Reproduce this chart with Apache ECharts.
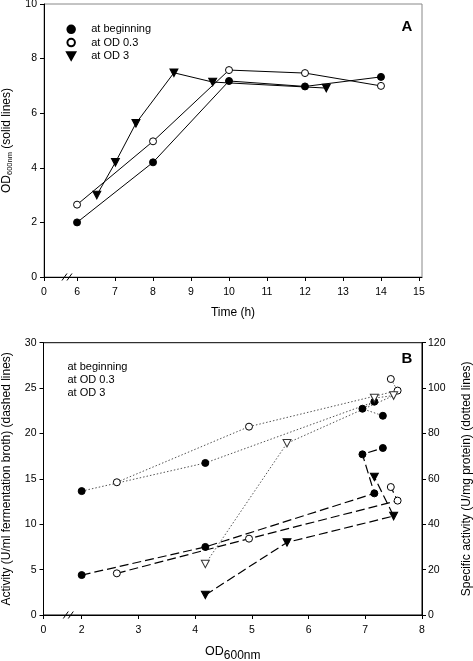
<!DOCTYPE html>
<html><head><meta charset="utf-8">
<script src="https://cdn.jsdelivr.net/npm/echarts@6/dist/echarts.min.js"></script>
<style>html,body{margin:0;padding:0;background:#fff}#c{width:473px;height:661px}</style>
</head><body><div id="c"></div>
<script>
// ---------- data ----------
const seriesNames = ['at beginning', 'at OD 0.3', 'at OD 3'];

// Panel A: OD600nm vs time
const timeBeginning = [6, 8, 10, 12, 14];
const odBeginning   = [2.0, 4.2, 7.18, 6.98, 7.33];
const timeOD03      = [6, 8, 10, 12, 14];
const odOD03        = [2.65, 4.97, 7.58, 7.47, 7.0];
const timeOD3       = [6.52, 7.01, 7.55, 8.55, 9.57, 12.56];
const odOD3         = [3.0, 4.2, 5.63, 7.48, 7.14, 6.92];

// Panel B: activity vs OD600nm
const odB_beginning   = [2.0, 4.18, 7.16, 6.95, 7.31];
const act_beginning   = [4.4, 7.5, 13.4, 17.7, 18.4];
const spec_beginning  = [54.6, 67.0, 94.0, 90.9, 87.8];
const odB_OD03        = [2.62, 4.95, 7.57, 7.45];
const act_OD03        = [4.59, 8.41, 12.6, 14.1];
const spec_OD03       = [58.5, 83.0, 98.9, 104.0];
const odB_OD3         = [4.18, 5.62, 7.50, 7.16];
const act_OD3         = [2.2, 8.0, 10.9, 15.2];
const spec_OD3        = [22.5, 75.7, 96.7, 95.6];

// tick labels (first tick is the broken-axis origin "0")
const xTicksA = [6, 7, 8, 9, 10, 11, 12, 13, 14, 15];
const xTicksB = [2, 3, 4, 5, 6, 7, 8];
const originLabel = '0';

// ---------- layout ----------
const FONT = 'Liberation Sans, Arial, sans-serif';
const minA = 5.13, maxA = 15.08;
const minB = 1.327, maxB = 8.0;
const zip = (xs, ys) => xs.map((x, i) => [x, ys[i]]);
const triDown = 'path://M0,0L10,0L5,9Z';

const axisCommon = {
  axisLine: { show: true, lineStyle: { color: '#000', width: 1 } },
  axisTick: { show: true, length: 4, lineStyle: { color: '#000' } },
  splitLine: { show: false },
  axisLabel: { color: '#000', fontFamily: FONT, fontSize: 10.5 },
  nameTextStyle: { color: '#000', fontFamily: FONT, fontSize: 12 }
};

const chart = echarts.init(document.getElementById('c'), null, { renderer: 'canvas' });

const solid = { color: '#000', width: 1, type: 'solid' };
const dashed = { color: '#000', width: 1.2, type: [9, 4] };
const dotted = { color: '#555', width: 1, type: [1.5, 2] };
const filled = { color: '#000', borderColor: '#000', borderWidth: 1 };
const open = { color: '#fff', borderColor: '#000', borderWidth: 1 };
const openGray = { color: '#fff', borderColor: '#333', borderWidth: 1 };

function line(name, data, xi, yi, lineStyle, symbol, itemStyle, size) {
  return {
    name, type: 'line', xAxisIndex: xi, yAxisIndex: yi, data,
    lineStyle, symbol, symbolSize: size, itemStyle, showSymbol: true,
    animation: false, z: 3
  };
}

const option = {
  backgroundColor: '#fff',
  animation: false,
  grid: [
    { left: 44, top: 4, width: 378, height: 273, show: true, borderColor: '#888', borderWidth: 1, outerBoundsMode: 'none', containLabel: false },
    { left: 43.5, top: 342.7, width: 378.5, height: 272.3, show: true, borderColor: '#000', borderWidth: 1, outerBoundsMode: 'none', containLabel: false }
  ],
  legend: [
    {
      data: seriesNames.map((n, i) => ({ name: n, icon: i === 2 ? triDown : 'circle' })),
      orient: 'vertical', left: 61, top: 17.8, itemWidth: 30, itemHeight: 7.5, itemGap: 0.3,
      textStyle: { color: '#000', fontFamily: FONT, fontSize: 11, lineHeight: 13 },
      selectedMode: false
    },
    {
      data: seriesNames.map(n => ({ name: n, icon: 'none' })),
      orient: 'vertical', left: 57.5, top: 355.7, itemWidth: 0, itemHeight: 7, itemGap: 0,
      textStyle: { color: '#000', fontFamily: FONT, fontSize: 11, lineHeight: 13 },
      selectedMode: false
    }
  ],
  xAxis: [
    Object.assign({}, axisCommon, {
      type: 'value', gridIndex: 0, min: minA, max: maxA,
      name: 'Time (h)', nameLocation: 'middle', nameGap: 30,
      axisTick: Object.assign({}, axisCommon.axisTick, { customValues: [minA].concat(xTicksA) }),
      axisLabel: Object.assign({}, axisCommon.axisLabel, {
        margin: 10, customValues: [minA].concat(xTicksA),
        formatter: v => (v < 5.9 ? originLabel : String(Math.round(v)))
      })
    }),
    Object.assign({}, axisCommon, {
      type: 'value', gridIndex: 1, min: minB, max: maxB,
      name: 'OD{sub|600nm}', nameLocation: 'middle', nameGap: 26,
      nameTextStyle: { color: '#000', fontFamily: FONT, fontSize: 12.5,
        rich: { sub: { fontFamily: FONT, fontSize: 12, color: '#000', padding: [9, 0, 0, 0], verticalAlign: 'bottom' } } },
      axisTick: Object.assign({}, axisCommon.axisTick, { customValues: [minB].concat(xTicksB) }),
      axisLabel: Object.assign({}, axisCommon.axisLabel, {
        margin: 10, customValues: [minB].concat(xTicksB),
        formatter: v => (v < 1.9 ? originLabel : String(Math.round(v)))
      })
    })
  ],
  yAxis: [
    Object.assign({}, axisCommon, {
      type: 'value', gridIndex: 0, min: 0, max: 10, interval: 2,
      name: 'OD{sub|600nm} (solid lines)', nameLocation: 'middle', nameGap: 29,
      nameTextStyle: { color: '#000', fontFamily: FONT, fontSize: 12,
        rich: { sub: { fontFamily: FONT, fontSize: 7.5, color: '#000', padding: [7, 0, 0, 0], verticalAlign: 'bottom' } } },
      axisLabel: Object.assign({}, axisCommon.axisLabel, { margin: 7 })
    }),
    Object.assign({}, axisCommon, {
      type: 'value', gridIndex: 1, min: 0, max: 30, interval: 5,
      name: 'Activity (U/ml fermentation broth) (dashed lines)', nameLocation: 'middle', nameGap: 31,
      axisLabel: Object.assign({}, axisCommon.axisLabel, { margin: 7 })
    }),
    Object.assign({}, axisCommon, {
      type: 'value', gridIndex: 1, min: 0, max: 120, interval: 20, position: 'right',
      name: 'Specific activity (U/mg protein) (dotted lines)', nameLocation: 'middle', nameGap: 39,
      nameRotate: 90,
      axisLabel: Object.assign({}, axisCommon.axisLabel, { margin: 6 })
    })
  ],
  series: [
    line(seriesNames[0], zip(timeBeginning, odBeginning), 0, 0, solid, 'circle', filled, 7),
    line(seriesNames[1], zip(timeOD03, odOD03), 0, 0, solid, 'circle', open, 7),
    line(seriesNames[2], zip(timeOD3, odOD3), 0, 0, solid, triDown, filled, [8, 7.5]),

    line(seriesNames[0], zip(odB_beginning, spec_beginning), 1, 2, dotted, 'circle', filled, 7),
    line(seriesNames[1], zip(odB_OD03, spec_OD03), 1, 2, dotted, 'circle', open, 7),
    line(seriesNames[2], zip(odB_OD3, spec_OD3), 1, 2, dotted, triDown, openGray, [8, 7.5]),

    line(seriesNames[0], zip(odB_beginning, act_beginning), 1, 1, dashed, 'circle', filled, 7),
    line(seriesNames[1], zip(odB_OD03, act_OD03), 1, 1, dashed, 'circle', open, 7),
    line(seriesNames[2], zip(odB_OD3, act_OD3), 1, 1, dashed, triDown, filled, [8, 7.5])
  ]
};
chart.setOption(option);

// axis-break marks and panel letters
function breakMarks(xi, yi, v) {
  const p = chart.convertToPixel({ xAxisIndex: xi, yAxisIndex: yi }, [v, 0]);
  const mk = (dx) => ({ type: 'line', shape: { x1: p[0] + dx - 2.5, y1: p[1] + 3.5, x2: p[0] + dx + 2.5, y2: p[1] - 3.5 },
    style: { stroke: '#000', lineWidth: 1 }, z: 10 });
  return [mk(-2.5), mk(2.5)];
}
const graphics = [].concat(
  breakMarks(0, 0, 5.735),
  breakMarks(1, 1, 1.764),
  [
    { type: 'text', style: { text: 'A', x: 407, y: 27, font: 'bold 15px ' + FONT, fill: '#000', textAlign: 'center', textVerticalAlign: 'middle' }, z: 10 },
    { type: 'text', style: { text: 'B', x: 407, y: 358.5, font: 'bold 15px ' + FONT, fill: '#000', textAlign: 'center', textVerticalAlign: 'middle' }, z: 10 }
  ]
);
chart.setOption({ graphic: graphics });
</script>
</body></html>
